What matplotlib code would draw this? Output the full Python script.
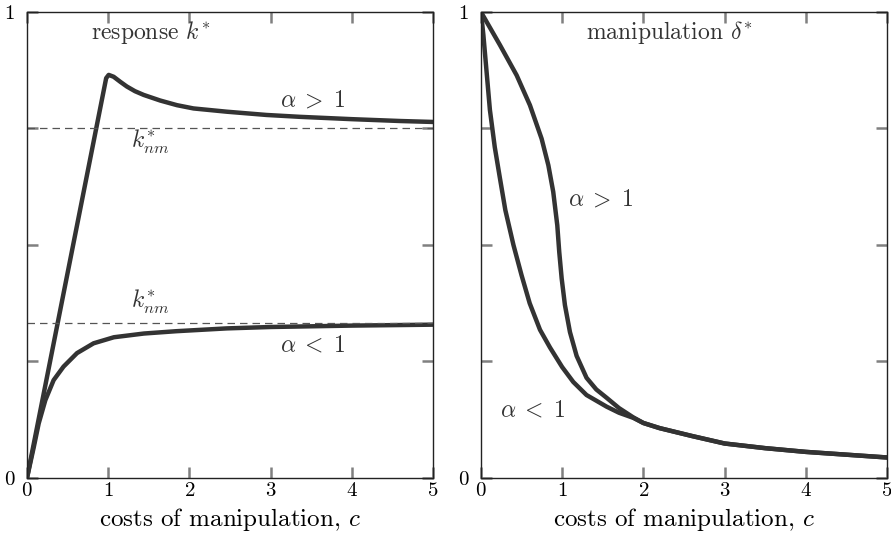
import numpy as np
import matplotlib
matplotlib.use("Agg")
import matplotlib.pyplot as plt

plt.rcParams['font.family'] = 'serif'
plt.rcParams['font.serif'] = ['cmr10', 'DejaVu Serif']
plt.rcParams['mathtext.fontset'] = 'cm'
plt.rcParams['axes.formatter.use_mathtext'] = True

LINE = '#333333'
TICK = '#808080'
TXT = '#333333'

# left panel: response k*
c_resp_hi = [0, 0.975, 1.006, 1.067, 1.15, 1.23, 1.33, 1.437, 1.64, 1.847, 2.05, 2.46, 2.95, 3.36, 4.0, 4.6, 5.0]
k_resp_hi = [0, 0.858, 0.865, 0.861, 0.85, 0.84, 0.83, 0.822, 0.81, 0.80, 0.793, 0.786, 0.779, 0.775, 0.77, 0.766, 0.764]
c_resp_lo = [0, 0.082, 0.144, 0.226, 0.328, 0.45, 0.616, 0.82, 1.07, 1.44, 1.84, 2.46, 3.0, 4.0, 5.0]
k_resp_lo = [0, 0.065, 0.117, 0.167, 0.21, 0.239, 0.268, 0.289, 0.302, 0.31, 0.315, 0.321, 0.324, 0.327, 0.329]
k_nm = [0.75, 0.333]

# right panel: manipulation delta*
c_man_hi = [0, 0.234, 0.44, 0.603, 0.747, 0.83, 0.89, 0.94, 0.964, 0.994, 1.034, 1.096, 1.178, 1.3, 1.42, 1.548, 1.7, 1.876,
            2.0, 2.2, 2.6, 3.0, 3.5, 4.0, 4.5, 5.0]
d_man_hi = [1, 0.929, 0.864, 0.80, 0.728, 0.671, 0.614, 0.542, 0.485, 0.428, 0.371, 0.313, 0.262, 0.215, 0.19, 0.172, 0.15, 0.13,
            0.118, 0.107, 0.09, 0.074, 0.064, 0.056, 0.05, 0.044]
c_man_lo = [0, 0.03, 0.07, 0.11, 0.17, 0.23, 0.3, 0.4, 0.5, 0.6, 0.727, 0.85, 1.0, 1.137, 1.3, 1.548, 1.7, 1.876,
            2.0, 2.2, 2.6, 3.0, 3.5, 4.0, 4.5, 5.0]
d_man_lo = [1, 0.95, 0.87, 0.79, 0.71, 0.647, 0.575, 0.5, 0.435, 0.375, 0.318, 0.28, 0.238, 0.206, 0.178, 0.153, 0.14, 0.129,
            0.118, 0.107, 0.09, 0.074, 0.064, 0.056, 0.05, 0.044]

xticks = [0, 1, 2, 3, 4, 5]
yticks = [0, 0.25, 0.5, 0.75, 1]
ylabels = ['0', '', '', '', '1']

fig = plt.figure(figsize=(8.91, 5.37), dpi=100)
axL = fig.add_axes([0.0303, 0.1099, 0.4557, 0.8678])
axR = fig.add_axes([0.5398, 0.1099, 0.4557, 0.8678])

def style(ax):
  ax.set_xlim(0, 5)
  ax.set_ylim(0, 1)
  ax.set_xticks(xticks)
  ax.set_yticks(yticks)
  ax.set_yticklabels(ylabels)
  ax.tick_params(direction='in', length=8, width=1.8, color=TICK,
                 top=True, right=True, labelsize=15)
  ax.tick_params(axis='x', pad=3)
  ax.tick_params(axis='y', pad=9)
  for s in ax.spines.values():
    s.set_linewidth(1.0)
    s.set_color('#222222')
  ax.set_xlabel('costs of manipulation, $c$', fontsize=18, labelpad=4)

axL.plot(c_resp_hi, k_resp_hi, color=LINE, lw=3.2, solid_joinstyle='round')
axL.plot(c_resp_lo, k_resp_lo, color=LINE, lw=3.2, solid_joinstyle='round')
for v in k_nm:
  axL.axhline(v, color='#555555', lw=0.9, ls=(0, (6, 4)))
axL.text(1.52, 0.955, r'response $k^{*}$', fontsize=17, ha='center', va='center', color=TXT)
axL.text(3.52, 0.811, r'$\alpha\;>\;1$', fontsize=17, ha='center', va='center', color=TXT)
axL.text(1.52, 0.72, r'$k^{*}_{nm}$', fontsize=17, ha='center', va='center', color=TXT)
axL.text(1.52, 0.378, r'$k^{*}_{nm}$', fontsize=17, ha='center', va='center', color=TXT)
axL.text(3.52, 0.285, r'$\alpha\;<\;1$', fontsize=17, ha='center', va='center', color=TXT)
style(axL)

axR.plot(c_man_hi, d_man_hi, color=LINE, lw=3.2, solid_joinstyle='round')
axR.plot(c_man_lo, d_man_lo, color=LINE, lw=3.2, solid_joinstyle='round')
axR.text(2.32, 0.955, r'manipulation $\delta^{*}$', fontsize=17, ha='center', va='center', color=TXT)
axR.text(1.47, 0.597, r'$\alpha\;>\;1$', fontsize=17, ha='center', va='center', color=TXT)
axR.text(0.64, 0.146, r'$\alpha\;<\;1$', fontsize=17, ha='center', va='center', color=TXT)
style(axR)

fig.savefig('out.png', dpi=100)
